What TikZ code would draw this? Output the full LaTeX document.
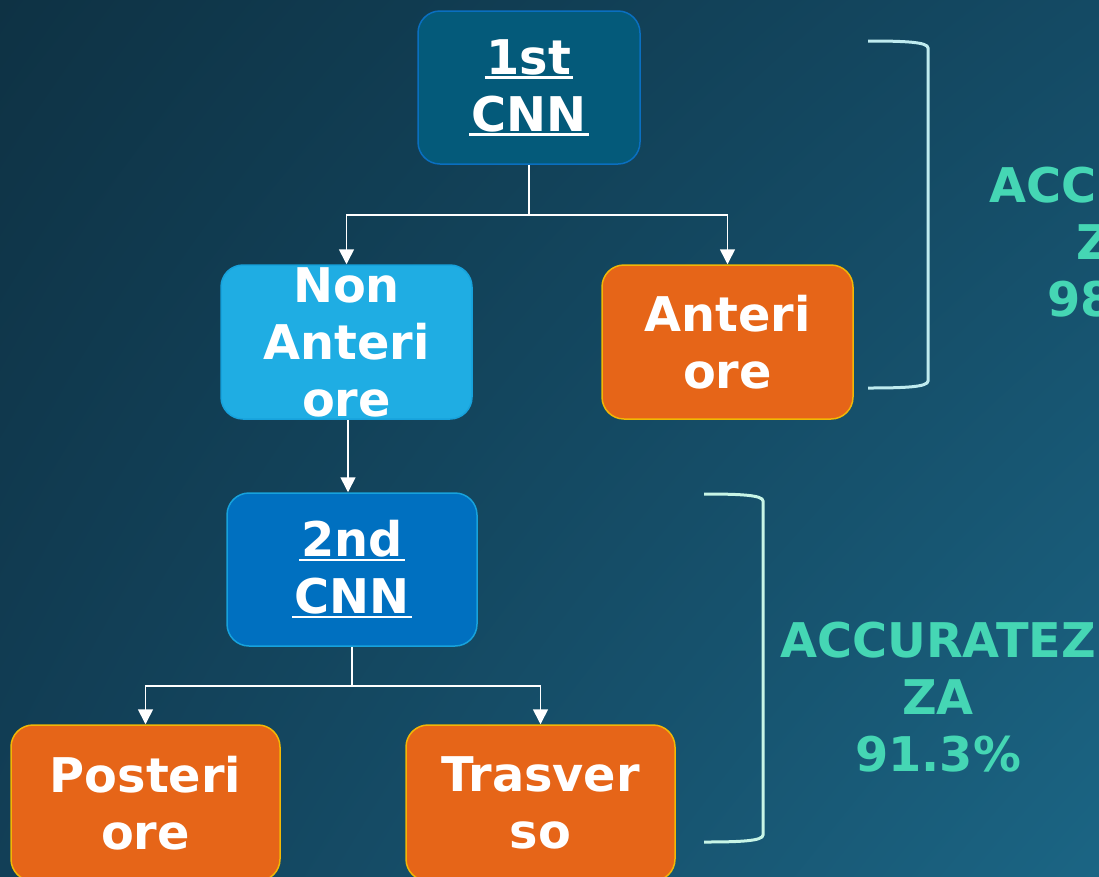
\documentclass[tikz,border=0pt]{standalone}
\usepackage{fontspec}
\setmainfont{DejaVu Sans}
\usetikzlibrary{arrows.meta,shadings}
\definecolor{bgA}{HTML}{0E3244}
\definecolor{bgB}{HTML}{144A64}
\definecolor{bgC}{HTML}{123F57}
\definecolor{bgD}{HTML}{1B6584}
\definecolor{cnnOne}{HTML}{045A7A}
\definecolor{cnnOneLine}{HTML}{0A6FC0}
\definecolor{skyFill}{HTML}{1FADE3}
\definecolor{skyLine}{HTML}{17A2DC}
\definecolor{orFill}{HTML}{E66518}
\definecolor{orLine}{HTML}{F2B705}
\definecolor{cnnTwo}{HTML}{0070C0}
\definecolor{accTeal}{HTML}{45D6B4}
\definecolor{brkA}{HTML}{BFEBEF}
\definecolor{brkB}{HTML}{C8F5E6}
% thick underline slightly wider than the word
\newcommand\thickul[1]{\setbox0\hbox{#1}\leavevmode
  \rlap{\kern-2pt\rule[-4.5pt]{\dimexpr\wd0+4pt\relax}{2.6pt}}\box0}
\tikzset{
  box/.style={draw, line width=1.5pt, rounded corners=22pt, inner sep=0pt,
    text=white, align=center, font=\bfseries\fontsize{47.8}{57}\selectfont},
  conn/.style={draw=white, line width=1.6pt, -{Triangle[width=15pt,length=15pt]}},
  acc/.style={text=accTeal, align=center, font=\bfseries\fontsize{47.8}{57}\selectfont},
  brk/.style={line width=3pt}
}
\begin{document}
\begin{tikzpicture}[x=1pt,y=-1pt]
  % background
  \shade[upper left=bgA, upper right=bgB, lower left=bgC, lower right=bgD]
    (0,0) rectangle (1099,876);
  \useasboundingbox (0,0) rectangle (1099,876);
  \clip (0,0) rectangle (1099,876);

  % boxes
  \node[box, fill=cnnOne, draw=cnnOneLine, minimum width=222pt, minimum height=153pt]
    (cnn1) at (529,87.5) {\thickul{1st}\\\thickul{CNN}};
  \node[box, fill=skyFill, draw=skyLine, minimum width=251pt, minimum height=154pt]
    (nonant) at (346.5,342) {Non\\Anteri\\ore};
  \node[box, fill=orFill, draw=orLine, minimum width=251pt, minimum height=154pt]
    (ant) at (727.5,342) {Anteri\\ore};
  \node[box, fill=cnnTwo, draw=skyLine, minimum width=250pt, minimum height=153pt]
    (cnn2) at (352,569.5) {\thickul{2nd}\\\thickul{CNN}};
  \node[box, fill=orFill, draw=orLine, minimum width=269pt, minimum height=156pt]
    (post) at (145.5,803) {Posteri\\ore};
  \node[box, fill=orFill, draw=orLine, minimum width=269pt, minimum height=156pt]
    (tras) at (540.5,803) {Trasver\\so};

  % connectors
  \coordinate (j1) at (529,215);
  \coordinate (j2) at (352,686);
  \draw[conn] (cnn1.south) -- (j1) -| (nonant.north);
  \draw[conn] (cnn1.south) -- (j1) -| (ant.north);
  \draw[conn] ([xshift=1.5pt]nonant.south) -- ([xshift=1.5pt]nonant.south |- cnn2.north);
  \draw[conn] (cnn2.south) -- (j2) -| (post.north);
  \draw[conn] (cnn2.south) -- (j2) -| (tras.north);

  % brackets
  \draw[brk, draw=brkA] (868,41) .. controls (905,41) and (928,42) .. (928,48)
    -- (928,381) .. controls (928,387) and (905,388) .. (868,388);
  \draw[brk, draw=brkB] (704,494) .. controls (740,494) and (763,495) .. (763,501)
    -- (763,835) .. controls (763,841) and (740,842) .. (704,842);

  % accuracy labels
  \node[acc] (accA) at (1130,242) {ACCURATE\\ZZA\\98.0\%};
  \node[acc] (accB) at (938,697) {ACCURATEZ\\ZA\\91.3\%};
\end{tikzpicture}
\end{document}
